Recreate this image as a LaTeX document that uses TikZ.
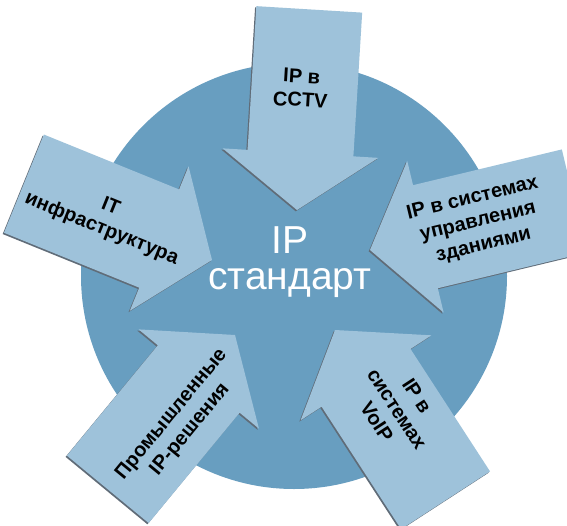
\documentclass[tikz,border=0pt]{standalone}
\usepackage{fontspec}
\setmainfont{Liberation Sans}
\definecolor{disc}{RGB}{104,158,192}
\definecolor{arrowfill}{RGB}{158,194,218}
\definecolor{arrowshade}{RGB}{96,108,120}
\tikzset{
  arrowtext/.style={font=\fontsize{20}{24}\selectfont\bfseries, text=black, align=center, inner sep=0pt},
  centertext/.style={font=\fontsize{39}{36}\selectfont, text=white, align=center, inner sep=0pt},
}
% #1,#2 = tip (image px), #3 = direction angle, #4 = total length
\newcommand\blockarrow[4]{%
  \begin{scope}[shift={(#1-1.3,#2+1.3)}, rotate=#3]
    \fill[arrowshade] (0,0) -- (-57,78) -- (-57,53) -- (-#4,53) -- (-#4,-53) -- (-57,-53) -- (-57,-78) -- cycle;
  \end{scope}
  \begin{scope}[shift={(#1,#2)}, rotate=#3]
    \fill[arrowfill] (0,0) -- (-57,78) -- (-57,53) -- (-#4,53) -- (-#4,-53) -- (-57,-53) -- (-57,-78) -- cycle;
  \end{scope}}
\begin{document}
\begin{tikzpicture}[x=1pt, y=-1pt]
  \useasboundingbox (0,0) rectangle (567,525);
  \fill[white] (0,0) rectangle (567,525);
  % disc
  \fill[disc] (294,276) circle[radius=213];
  % arrows
  \blockarrow{297}{210}{266.5}{201}
  \blockarrow{370}{250}{193.5}{210}
  \blockarrow{335}{330}{123}{203}
  \blockarrow{235}{335}{50.5}{200}
  \blockarrow{212}{260}{-22.1}{203}
  % texts
  \node[centertext] (centre) at (290,262) {IP\\стандарт};
  \node[arrowtext, rotate=-3.5] (cctv) at (301,88) {IP в\\CCTV};
  \node[arrowtext, rotate=13.5] (bms) at (478,222) {IP в системах\\управления\\зданиями};
  \node[arrowtext, rotate=-57] (voip) at (397,409) {IP в\\системах\\VoIP};
  \node[arrowtext, rotate=50.5] (ind) at (181,422) {Промышленные\\IP-решения};
  \node[arrowtext, rotate=-22] (it) at (106,218) {IT\\инфраструктура};
\end{tikzpicture}
\end{document}
